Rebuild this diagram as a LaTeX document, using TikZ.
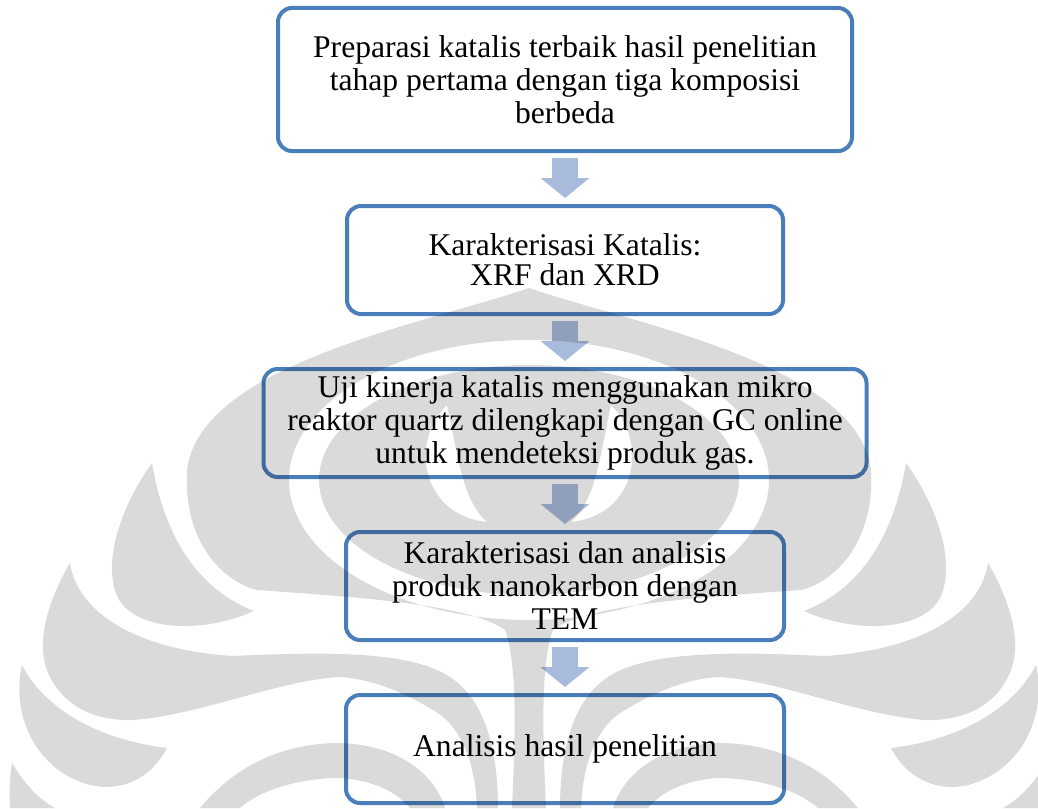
\documentclass[tikz,border=0pt]{standalone}
\usepackage{fontspec}
\setmainfont{Liberation Serif}
\usepackage{xcolor}
\usetikzlibrary{positioning,arrows.meta}

\definecolor{boxblue}{RGB}{74,126,187}
\definecolor{arrowblue}{RGB}{168,187,220}

\begin{document}
\begin{tikzpicture}[
  x=0.5pt, y=-0.5pt,
  node distance=25.5pt,
  font=\fontsize{15.8}{16.5}\selectfont,
  every node/.style={align=center},
  box/.style={draw=boxblue, line width=2pt, rounded corners=7pt,
              minimum height=54pt, inner sep=2pt},
  arrow/.style={-{Triangle[length=10pt 0 0, width=24pt 0 0]}, line width=13pt,
                arrowblue, shorten <=2.5pt, shorten >=3pt},
  wm/.style={fill=black, fill opacity=0.145},
]
\useasboundingbox (0,0) rectangle (1038,808);

% ===== flow =====
\node[box, minimum width=287pt, minimum height=71.5pt] (prep) at (565,79.5)
  {Preparasi katalis terbaik hasil penelitian\\tahap pertama dengan tiga komposisi\\berbeda};
\node[box, minimum width=218pt, below=of prep] (karakter)
  {Karakterisasi Katalis:\\[-1.5pt]XRF dan XRD};
\node[box, minimum width=301.5pt, below=of karakter] (uji)
  {Uji kinerja katalis menggunakan mikro\\reaktor quartz dilengkapi dengan GC online\\untuk mendeteksi produk gas.};
\node[box, minimum width=219pt, below=of uji] (tem)
  {Karakterisasi dan analisis\\produk nanokarbon dengan\\TEM};
\node[box, minimum width=219pt, below=of tem] (hasil)
  {Analisis hasil penelitian};

\draw[arrow] (prep) -- (karakter);
\draw[arrow] (karakter) -- (uji);
\draw[arrow] (uji) -- (tem);
\draw[arrow] (tem) -- (hasil);

% ===== watermark =====
% flame with stem, ring and crescents
\fill[wm, even odd rule]
  (529,288) .. controls (420,325) and (200,365) .. (187,470)
  .. controls (183,545) and (225,582) .. (257,590)
  .. controls (370,598) and (470,605) .. (505,630)
  .. controls (518,665) and (515,740) .. (512,808) -- (546,808)
  .. controls (543,740) and (540,665) .. (553,630)
  .. controls (588,605) and (688,598) .. (801,590)
  .. controls (833,582) and (875,545) .. (871,470)
  .. controls (858,365) and (638,325) .. (529,288) -- cycle
  (529,480) ellipse [x radius=240, y radius=140]
  (529,480) ellipse [x radius=210, y radius=115]
  (447,405) .. controls (410,440) and (420,515) .. (487,522)
  .. controls (462,500) and (458,455) .. (447,405) -- cycle
  (611,405) .. controls (648,440) and (638,515) .. (571,522)
  .. controls (596,500) and (600,455) .. (611,405) -- cycle;
% side leaves and bands
\foreach \side in {1,-1} {
  \begin{scope}[shift={(529,0)}, xscale=\side, shift={(-529,0)}]
    \fill[wm] (152,463) .. controls (125,500) and (100,560) .. (118,598)
      .. controls (135,630) and (200,635) .. (254,611)
      .. controls (200,590) and (165,540) .. (152,463) -- cycle;
    \fill[wm] (70,563) .. controls (78,615) and (140,650) .. (233,656)
      .. controls (320,652) and (410,650) .. (450,677)
      .. controls (485,700) and (498,750) .. (498,808) -- (477,808)
      .. controls (475,760) and (460,725) .. (433,710)
      .. controls (400,690) and (370,679) .. (340,677)
      .. controls (280,680) and (200,715) .. (133,720)
      .. controls (70,722) and (40,680) .. (43,640)
      .. controls (45,610) and (60,580) .. (70,563) -- cycle;
    \fill[wm] (22,665) .. controls (45,710) and (100,740) .. (167,748)
      .. controls (150,780) and (120,792) .. (90,785)
      .. controls (40,772) and (10,720) .. (22,665) -- cycle;
    \fill[wm] (12,763) .. controls (25,785) and (40,800) .. (55,808) -- (10,808)
      .. controls (9,790) and (10,775) .. (12,763) -- cycle;
    \fill[wm] (200,808) .. controls (240,760) and (290,743) .. (340,743)
      .. controls (400,745) and (435,775) .. (445,808) -- (410,808)
      .. controls (395,790) and (370,780) .. (340,778)
      .. controls (300,778) and (260,790) .. (240,808) -- cycle;
  \end{scope}
}
\end{tikzpicture}
\end{document}
